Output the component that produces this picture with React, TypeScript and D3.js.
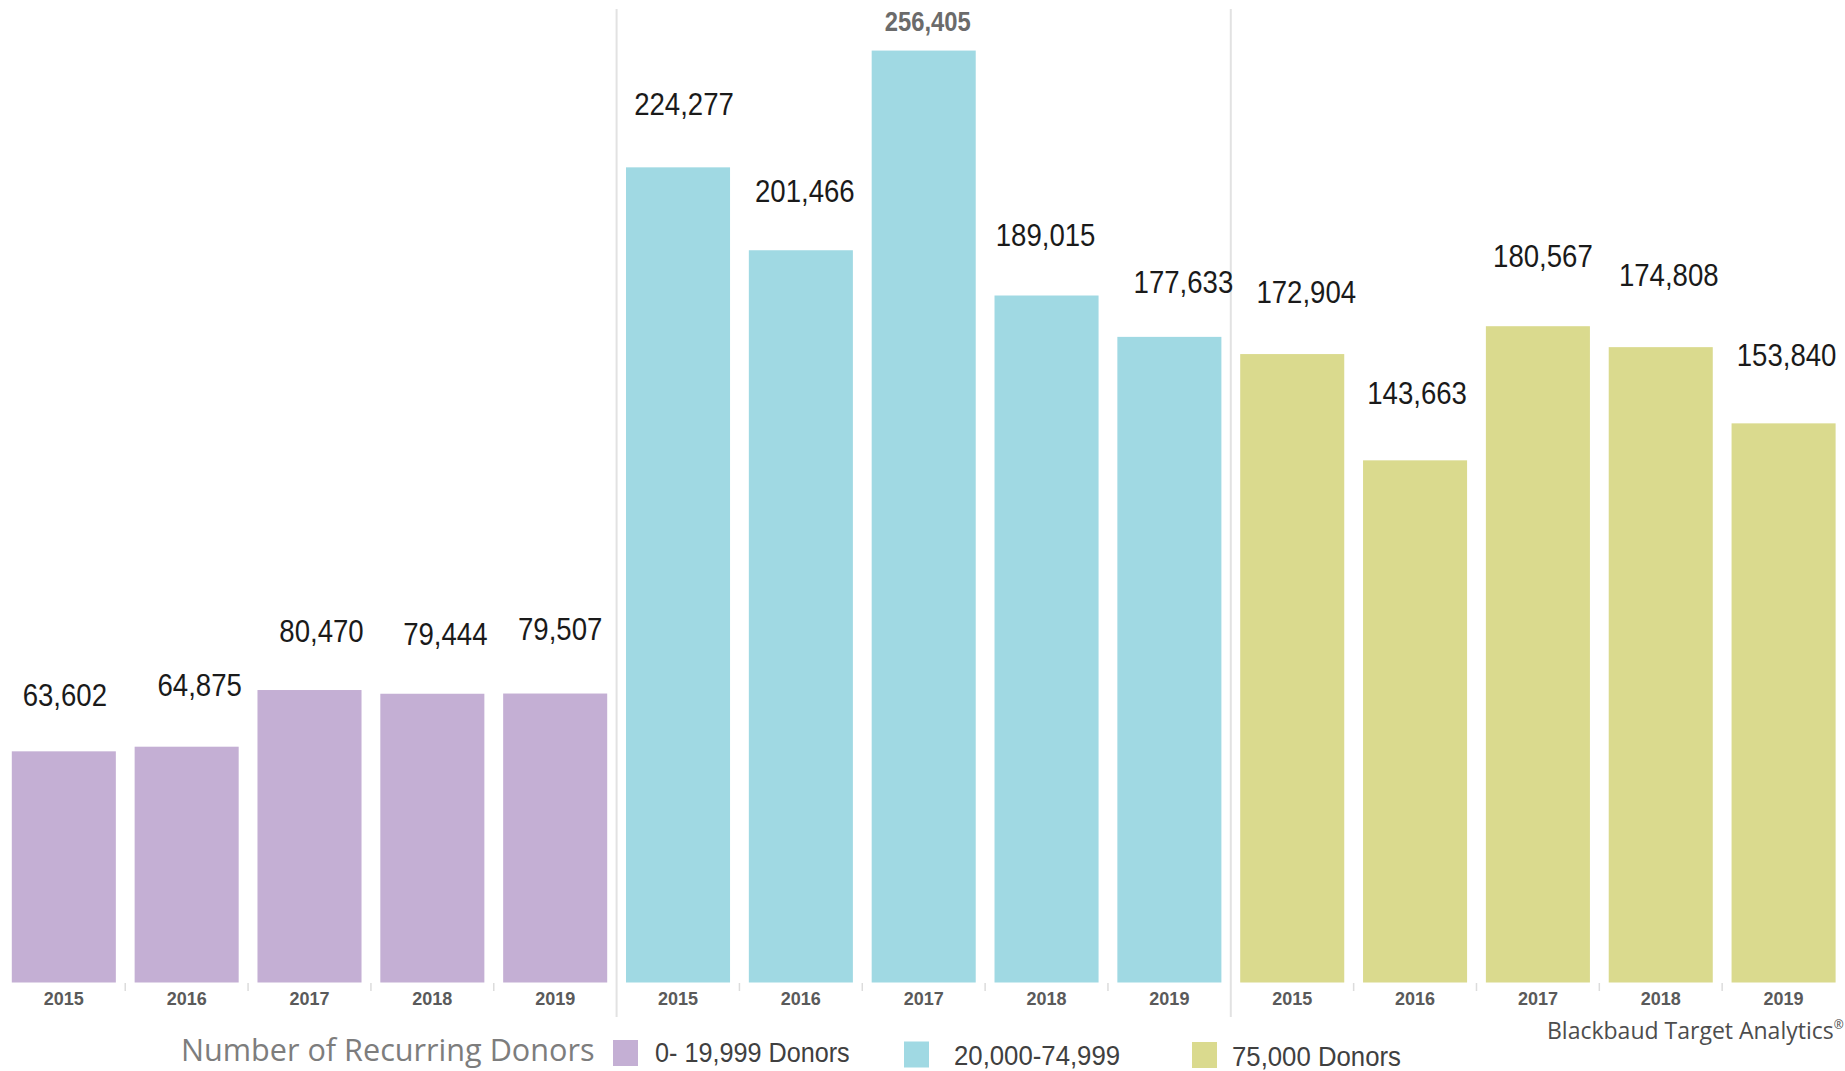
import React from "react";
import * as d3 from "d3";

// ---------- data ----------
const years = ["2015", "2016", "2017", "2018", "2019"];
const groupNames = ["0- 19,999 Donors", "20,000-74,999", "75,000 Donors"];
const smallDonors = [63602, 64875, 80470, 79444, 79507];
const midDonors = [224277, 201466, 256405, 189015, 177633];
const largeDonors = [172904, 143663, 180567, 174808, 153840];
const legendTitle = "Number of Recurring Donors";
const credit = "Blackbaud Target Analytics";

// ---------- style / layout ----------
const groupColors = ["#c4afd4", "#a0d9e3", "#dada8e"];
// label placement tweaks (pixels above bar top, horizontal nudge)
const labelLift = [56, 62, 59, 60, 65, 63, 59, 29, 61, 55, 62, 67, 70, 72, 68];
const labelShift = [1, 13, 12, 13, 5, 6, 4, 4, -1, 14, 14, 2, 5, 8, 3];
const legendDy = [0, 3, 4];
const legendScale = [0.9, 0.92, 0.92];

const W = 1845;
const H = 1071;
const baseY = 982.5;

export default function App() {
  const series = [smallDonors, midDonors, largeDonors];
  const rows = series.flatMap((vals, gi) =>
    vals.map((v, yi) => ({ gi, yi, year: years[yi], value: v, key: `${gi}-${years[yi]}` }))
  );
  const maxVal = d3.max(rows, (r) => r.value) as number;

  const x = d3
    .scaleBand<string>()
    .domain(rows.map((r) => r.key))
    .range([2.4, 1845])
    .paddingInner(0.153)
    .paddingOuter(0.0765);
  const y = d3.scaleLinear().domain([0, 260000]).range([baseY, 37.5]);
  const bw = x.bandwidth();
  const step = x.step();
  const fmt = d3.format(",");

  const ticks: number[] = [];
  const seps: number[] = [];
  rows.forEach((r, i) => {
    if (i === rows.length - 1) return;
    const mid = (x(r.key) as number) + bw + (step - bw) / 2;
    if (rows[i + 1].gi !== r.gi) seps.push(mid);
    else ticks.push(mid);
  });

  const legendSwatchX = [613, 904, 1192];
  const legendTextX = [655, 954, 1232];

  return (
    <svg
      width={W}
      height={H}
      style={{ position: "absolute", left: 0, top: 0, background: "#fff" }}
    >
      <rect x={0} y={0} width={W} height={H} fill="#fff" />
      {seps.map((sx, i) => (
        <line key={"s" + i} x1={sx} x2={sx} y1={9} y2={1017} stroke="#e2e2e2" strokeWidth={2} />
      ))}
      {ticks.map((tx, i) => (
        <line key={"t" + i} x1={tx} x2={tx} y1={983} y2={991} stroke="#dcdcdc" strokeWidth={1.5} />
      ))}
      {rows.map((r) => (
        <rect
          key={"b" + r.key}
          x={x(r.key)}
          y={y(r.value)}
          width={bw}
          height={baseY - y(r.value)}
          fill={groupColors[r.gi]}
        />
      ))}
      {rows.map((r, i) => {
        const cx = (x(r.key) as number) + bw / 2 + labelShift[i];
        const cy = y(r.value) - labelLift[i];
        const isMax = r.value === maxVal;
        return (
          <g key={"l" + r.key} transform={`translate(${cx},${cy}) scale(${isMax ? 0.85 : 0.89},1)`}>
            <text
              textAnchor="middle"
              dominantBaseline="central"
              fontFamily="'Liberation Sans', Arial, sans-serif"
              fontSize={isMax ? 28 : 31}
              fontWeight={isMax ? 700 : 400}
              fill={isMax ? "#6b6b6b" : "#1a1a1a"}
            >
              {fmt(r.value)}
            </text>
          </g>
        );
      })}
      {rows.map((r) => (
        <text
          key={"y" + r.key}
          x={(x(r.key) as number) + bw / 2}
          y={1004.5}
          textAnchor="middle"
          fontFamily="'Liberation Sans', Arial, sans-serif"
          fontSize={18}
          fontWeight={700}
          fill="#5a5a5a"
        >
          {r.year}
        </text>
      ))}
      <text
        x={181}
        y={1061}
        fontFamily="'Open Sans', sans-serif"
        fontSize={30.6}
        fill="#7d7d7d"
      >
        {legendTitle}
      </text>
      {groupNames.map((g, i) => (
        <g key={"lg" + i}>
          <rect x={legendSwatchX[i]} y={1040 + legendDy[i] * 0.5} width={25} height={26} fill={groupColors[i]} />
          <g transform={`translate(${legendTextX[i]},${1062 + legendDy[i]}) scale(${legendScale[i]},1)`}>
            <text
              fontFamily="'Liberation Sans', Arial, sans-serif"
              fontSize={28}
              fill="#404040"
            >
              {g}
            </text>
          </g>
        </g>
      ))}
      <text x={1547} y={1039} fontFamily="'Open Sans', sans-serif" fontSize={23} fill="#4d4d4d">
        {credit}
        <tspan fontSize={12} dy={-10}>®</tspan>
      </text>
    </svg>
  );
}
